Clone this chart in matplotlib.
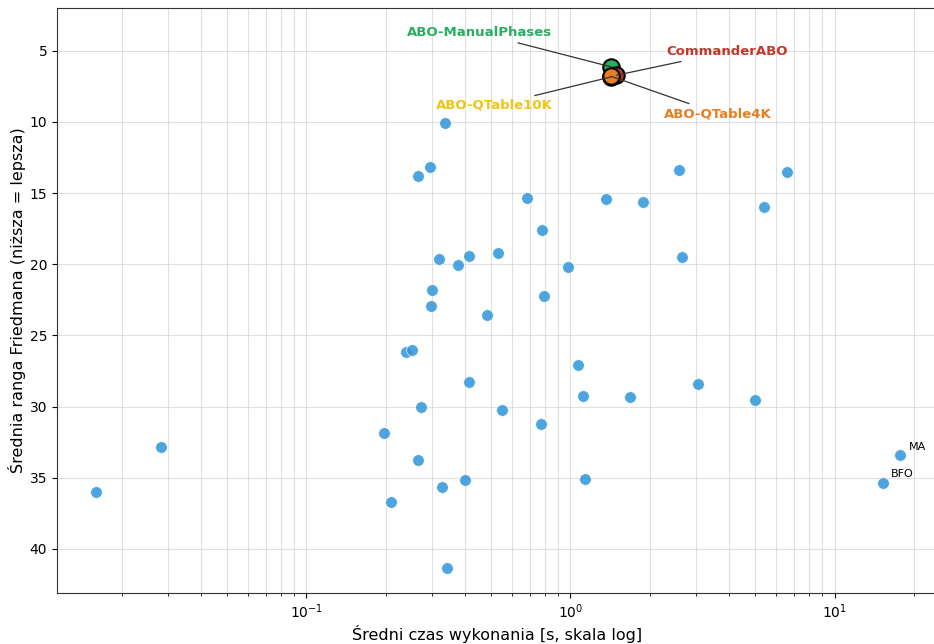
import matplotlib
matplotlib.use("Agg")
import matplotlib.pyplot as plt

# Mean execution time [s] and mean Friedman rank for the remaining algorithms
times = [0.0159, 0.0280, 0.3354, 0.2942, 0.2636, 0.6866, 1.358, 0.779,
         0.3183, 0.3758, 0.4115, 0.5316, 0.9775, 0.2986, 0.2953, 0.7946,
         0.4842, 0.2379, 0.2514, 1.072, 0.4115, 1.120, 0.2706, 0.552,
         0.1968, 0.7723, 0.2636, 0.3974, 0.3267, 1.130, 0.2087, 0.3396,
         2.570, 6.59, 1.876, 5.40, 2.647, 1.680, 3.052, 4.98]
ranks = [36.0, 32.83, 10.05, 13.15, 13.79, 15.32, 15.41, 17.58,
         19.62, 20.04, 19.45, 19.22, 20.20, 21.78, 22.95, 22.25,
         23.57, 26.18, 26.06, 27.07, 28.30, 29.27, 30.02, 30.23,
         31.84, 31.25, 33.77, 35.14, 35.63, 35.11, 36.72, 41.35,
         13.41, 13.55, 15.61, 15.99, 19.49, 29.34, 28.45, 29.51]

# Reference algorithms labelled with plain text
ref_names = ["MA", "BFO"]
ref_times = [17.73, 15.24]
ref_ranks = [33.41, 35.35]

# Highlighted ABO variants
hl_names = ["ABO-ManualPhases", "CommanderABO", "ABO-QTable10K", "ABO-QTable4K"]
hl_times = [1.427, 1.49, 1.42, 1.425]
hl_ranks = [6.14, 6.73, 6.85, 6.80]
hl_colors = ["#27ae60", "#c0392b", "#f1c40f", "#e67e22"]
hl_offsets = [(-95, 24.5), (80, 17), (-84, -20.5), (77, -27)]

fig = plt.figure(figsize=(9.34, 6.44), dpi=100)
ax = fig.add_axes([0.061, 0.0792, 0.943, 0.9084])

ax.scatter(times + ref_times, ranks + ref_ranks, s=70, color="#3498db",
           alpha=0.88, edgecolors="white", linewidths=0.5, zorder=3)

for name, x, y in zip(ref_names, ref_times, ref_ranks):
    ax.annotate(name, (x, y), xytext=(6, 6), textcoords="offset points",
                ha="left", va="center", fontsize=8, zorder=5)

for name, x, y, c, off in zip(hl_names, hl_times, hl_ranks, hl_colors, hl_offsets):
    ax.scatter([x], [y], s=140, color=c, edgecolors="black",
               linewidths=1.5, zorder=4)
    ax.annotate(name, (x, y), xytext=off, textcoords="offset points",
                ha="center", va="center", fontsize=9.5, fontweight="bold",
                color=c, zorder=5,
                arrowprops=dict(arrowstyle="-", color="#333333", lw=0.9,
                                shrinkA=2, shrinkB=0))

ax.set_xscale("log")
ax.set_xlim(0.01135, 24.6)
ax.set_ylim(43.1, 2.0)
ax.set_yticks([5, 10, 15, 20, 25, 30, 35, 40])

ax.grid(True, which="both", color="#cccccc", alpha=0.6, linewidth=0.8)
ax.set_axisbelow(True)
for s in ax.spines.values():
    s.set_color("#333333")

ax.set_xlabel("Średni czas wykonania [s, skala log]", fontsize=11.5, labelpad=2.5)
ax.set_ylabel("Średnia ranga Friedmana (niższa = lepsza)", fontsize=11.5, labelpad=2.5)

fig.savefig("out.png", dpi=100)
